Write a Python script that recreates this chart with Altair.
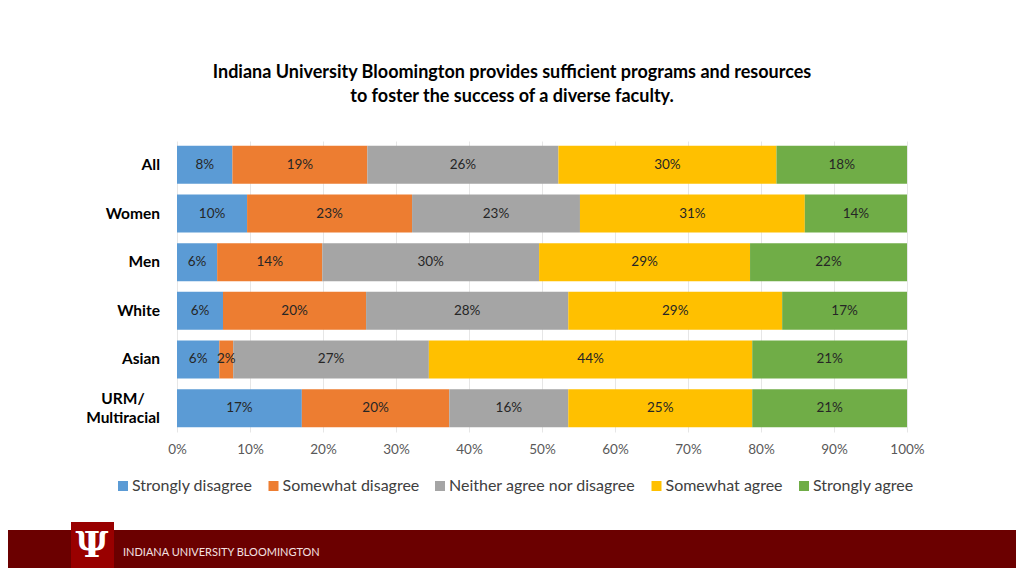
import altair as alt
import pandas as pd

groups = ["All", "Women", "Men", "White", "Asian", "URM/Multiracial"]
responses = ["Strongly disagree", "Somewhat disagree", "Neither agree nor disagree",
             "Somewhat agree", "Strongly agree"]
colors = ["#5b9bd5", "#ed7d31", "#a5a5a5", "#ffc000", "#70ad47"]

strongly_disagree = [7.6, 9.6, 5.5, 6.3, 5.8, 17.1]
somewhat_disagree = [18.5, 22.6, 14.4, 19.6, 1.9, 20.2]
neither = [26.2, 23.0, 29.7, 27.7, 26.8, 16.3]
somewhat_agree = [29.9, 30.8, 28.9, 29.3, 44.3, 25.2]
strongly_agree = [17.9, 14.0, 21.5, 17.1, 21.2, 21.2]

label_sd = [8, 10, 6, 6, 6, 17]
label_swd = [19, 23, 14, 20, 2, 20]
label_n = [26, 23, 30, 28, 27, 16]
label_swa = [30, 31, 29, 29, 44, 25]
label_sa = [18, 14, 22, 17, 21, 21]

title_lines = ["Indiana University Bloomington provides sufficient programs and resources",
               "to foster the success of a diverse faculty."]
footer_text = "INDIANA UNIVERSITY BLOOMINGTON"

series = [strongly_disagree, somewhat_disagree, neither, somewhat_agree, strongly_agree]
labels = [label_sd, label_swd, label_n, label_swa, label_sa]
rows = []
for ri, (resp, vals, labs) in enumerate(zip(responses, series, labels)):
    for g, v, l in zip(groups, vals, labs):
        rows.append({"group": g, "response": resp, "order": ri, "value": v,
                     "label": f"{l}%"})
df = pd.DataFrame(rows)

FONT = "Lato"
W, H = 730, 291

yenc = alt.Y("group:N", sort=groups,
             scale=alt.Scale(paddingInner=0.22, paddingOuter=0.1),
             axis=None)

base = alt.Chart(df).transform_stack(
    stack="value", groupby=["group"], sort=[alt.SortField("order")],
    as_=["x0", "x1"], offset="normalize"
).transform_calculate(mid="(datum.x0 + datum.x1) / 2")

bars = base.mark_bar(stroke=None).encode(
    x=alt.X("x0:Q", scale=alt.Scale(domain=[0, 1], nice=False),
            axis=alt.Axis(format=".0%", values=[i / 10 for i in range(11)],
                          title=None, domain=False, ticks=False, labelFlush=False,
                          grid=True, gridColor="#e6e6e6", labelFont=FONT,
                          labelFontSize=13.5, labelColor="#595959",
                          labelPadding=10)),
    x2="x1:Q",
    y=yenc,
    color=alt.Color("response:N", sort=responses,
                    scale=alt.Scale(domain=responses, range=colors),
                    legend=alt.Legend(title=None, orient="none", direction="horizontal",
                                      legendX=-62, legendY=337, symbolType="square",
                                      symbolSize=100, symbolStrokeWidth=0,
                                      labelFont=FONT, labelFontSize=16, labelLimit=0,
                                      labelColor="#404040", columnPadding=12.5,
                                      labelOffset=1)),
    order=alt.Order("order:Q"),
)

texts = base.mark_text(font=FONT, fontSize=13.5, color="#262626").encode(
    x="mid:Q", y=yenc, text="label:N"
)

ylab = alt.Chart(pd.DataFrame({"group": groups[:-1]})).mark_text(
    font=FONT, fontSize=15.5, fontWeight="bold", align="right", color="#000000"
).encode(x=alt.value(-17), y=yenc, text="group:N")

ylab2 = alt.Chart(pd.DataFrame({"group": [groups[-1]], "txt": ["URM/\nMultiracial"]})).mark_text(
    font=FONT, fontSize=15.5, fontWeight="bold", align="center", lineBreak="\n",
    lineHeight=19, color="#000000", dy=-9
).encode(x=alt.value(-54), y=yenc, text="txt:N")

title = alt.Chart(pd.DataFrame({"t": ["\n".join(title_lines)]})).mark_text(
    font=FONT, fontSize=18, fontWeight="bold", lineBreak="\n", lineHeight=24,
    color="#000000", baseline="middle"
).encode(x=alt.value(335), y=alt.value(-68), text="t:N")

one = pd.DataFrame({"a": [0]})
footer = alt.Chart(one).mark_rect(color="#6b0000").encode(
    x=alt.value(-177), x2=alt.value(847), y=alt.value(389), y2=alt.value(440))
logo = alt.Chart(one).mark_rect(color="#990000").encode(
    x=alt.value(-106), x2=alt.value(-63), y=alt.value(381), y2=alt.value(440))
trident = alt.Chart(pd.DataFrame({"t": ["Ψ"]})).mark_text(
    font="DejaVu Serif", fontSize=36, fontWeight="bold", color="#ffffff", baseline="middle"
).encode(x=alt.value(-85), y=alt.value(405), text="t:N")
ftext = alt.Chart(pd.DataFrame({"t": [footer_text]})).mark_text(
    font=FONT, fontSize=11, color="#f4e0e0", align="left", baseline="middle"
).encode(x=alt.value(-54), y=alt.value(412), text="t:N")

chart = alt.layer(bars, texts, ylab, ylab2, title, footer, logo, trident, ftext).properties(
    width=W, height=H,
    autosize=alt.AutoSizeParams(type="none"),
    padding={"left": 169, "top": 133, "right": 109, "bottom": 136},
).configure_view(stroke=None)

chart.save("out.html", embed_options={"renderer": "svg", "actions": False})
